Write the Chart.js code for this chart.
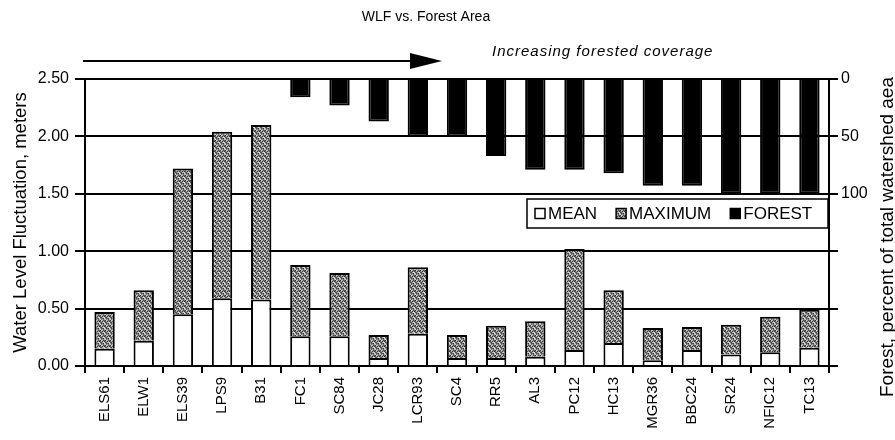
<!DOCTYPE html>
<html>
<head>
<meta charset="utf-8">
<title>WLF vs. Forest Area</title>
<script src="https://cdn.jsdelivr.net/npm/chart.js@4.4.1/dist/chart.umd.min.js"></script>
<style>
  html, body { margin: 0; padding: 0; background: #fff; }
</style>
</head>
<body>
<canvas id="chart" width="895" height="440"></canvas>
<script>
// sites, ordered by increasing forested coverage
const sites = ["ELS61", "ELW1", "ELS39", "LPS9", "B31", "FC1", "SC84", "JC28", "LCR93", "SC4",
               "RR5", "AL3", "PC12", "HC13", "MGR36", "BBC24", "SR24", "NFIC12", "TC13"];
// water level fluctuation, meters
const meanWLF = [0.15, 0.22, 0.45, 0.59, 0.58, 0.26, 0.26, 0.07, 0.28, 0.07,
                 0.07, 0.08, 0.14, 0.20, 0.05, 0.14, 0.10, 0.12, 0.16];
const maxWLF  = [0.47, 0.66, 1.72, 2.04, 2.10, 0.88, 0.81, 0.27, 0.86, 0.27,
                 0.35, 0.39, 1.02, 0.66, 0.33, 0.34, 0.36, 0.43, 0.49];
// forest, percent of total watershed area
const forestPct = [null, null, null, null, null, 16, 23, 37, 50, 50,
                   67, 79, 79, 82, 93, 93, 100, 100, 100];
const forestLabels = [0, 50, 100];

const FONT = "'Liberation Sans', Arial, Helvetica, sans-serif";
Chart.defaults.font.family = FONT;
Chart.defaults.font.size = 16;
Chart.defaults.color = '#000';

// stippled grey fill for the maximum bars
function stipple() {
  const c = document.createElement('canvas');
  c.width = 5; c.height = 5;
  const g = c.getContext('2d');
  const tones = [0x30, 0xa8, 0x6c, 0xd4, 0x50];
  for (let y = 0; y < 5; y++) {
    for (let x = 0; x < 5; x++) {
      const t = tones[(x * 3 + y * 2 + (x * y) % 3) % 5];
      g.fillStyle = `rgb(${t},${t},${t})`;
      g.fillRect(x, y, 1, 1);
    }
  }
  return g.createPattern(c, 'repeat');
}
const grey = stipple();

const annotations = {
  id: 'annotations',
  afterDraw(chart) {
    const ctx = chart.ctx;
    ctx.save();
    ctx.fillStyle = '#000';
    ctx.strokeStyle = '#000';
    ctx.textBaseline = 'middle';

    ctx.font = `14px ${FONT}`;
    ctx.textAlign = 'center';
    ctx.fillText('WLF vs. Forest Area', 426, 17);

    // arrow
    ctx.lineWidth = 2;
    ctx.beginPath();
    ctx.moveTo(83, 61);
    ctx.lineTo(415, 61);
    ctx.stroke();
    ctx.beginPath();
    ctx.moveTo(442, 61);
    ctx.lineTo(410, 53);
    ctx.lineTo(410, 69);
    ctx.closePath();
    ctx.fill();

    ctx.font = `italic 15px ${FONT}`;
    ctx.letterSpacing = '1px';
    ctx.textAlign = 'left';
    ctx.fillText('Increasing forested coverage', 492, 52);
    ctx.letterSpacing = '0px';

    // right axis title reads bottom to top
    ctx.save();
    ctx.translate(888, 237);
    ctx.rotate(-Math.PI / 2);
    ctx.font = `19px ${FONT}`;
    ctx.textAlign = 'center';
    ctx.fillText('Forest, percent of total watershed aea', 0, 0);
    ctx.restore();

    // legend box
    const bx = 527, by = 199, bw = 301, bh = 29;
    ctx.fillStyle = '#fff';
    ctx.fillRect(bx, by, bw, bh);
    ctx.lineWidth = 1.5;
    ctx.strokeRect(bx, by, bw, bh);
    ctx.font = `17px ${FONT}`;
    let x = bx + 8;
    const cy = by + bh / 2;
    chart.data.datasets.forEach(ds => {
      ctx.fillStyle = ds.backgroundColor;
      ctx.fillRect(x, cy - 5, 10, 10);
      ctx.strokeRect(x, cy - 5, 10, 10);
      ctx.fillStyle = '#000';
      ctx.fillText(ds.label, x + 13, cy + 1);
      x += 13 + ctx.measureText(ds.label).width + 19;
    });
    ctx.restore();
  }
};

new Chart(document.getElementById('chart'), {
  type: 'bar',
  data: {
    labels: sites,
    datasets: [
      {
        label: 'MEAN',
        data: meanWLF,
        backgroundColor: '#fff',
        yAxisID: 'y'
      },
      {
        label: 'MAXIMUM',
        data: maxWLF.map((m, i) => [meanWLF[i], m]),
        backgroundColor: grey,
        yAxisID: 'y'
      },
      {
        label: 'FOREST',
        data: forestPct,
        backgroundColor: '#000',
        yAxisID: 'y2'
      }
    ]
  },
  options: {
    responsive: false,
    animation: false,
    devicePixelRatio: 1,
    layout: { padding: { top: 79, left: 0, right: 0, bottom: 0 } },
    datasets: {
      bar: {
        grouped: false,
        barPercentage: 0.52,
        categoryPercentage: 1,
        borderColor: '#000',
        borderWidth: 2
      }
    },
    plugins: {
      legend: { display: false },
      title: { display: false },
      tooltip: { enabled: false }
    },
    scales: {
      x: {
        grid: { display: true, drawOnChartArea: false, color: '#000', lineWidth: 2, tickLength: 7 },
        border: { color: '#000', width: 2 },
        ticks: { autoSkip: false, minRotation: 90, maxRotation: 90, padding: 4, font: { size: 15 } },
        afterFit(s) { s.height = 74; }
      },
      y: {
        position: 'left',
        min: 0,
        max: 2.5,
        grid: { color: '#000', lineWidth: 2, tickLength: 10 },
        border: { color: '#000', width: 2 },
        ticks: { stepSize: 0.5, padding: 6, callback: v => v.toFixed(2) },
        title: {
          display: true,
          text: 'Water Level Fluctuation, meters',
          font: { size: 18.5 },
          padding: { top: 10 }
        },
        afterFit(s) { s.width = 85; }
      },
      y2: {
        position: 'right',
        reverse: true,
        min: 0,
        max: 250,
        grid: { drawOnChartArea: false, color: '#000', lineWidth: 2, tickLength: 9 },
        border: { color: '#000', width: 2 },
        afterBuildTicks(s) {
          s.ticks = [0, 50, 100, 150, 200, 250].map(v => ({ value: v }));
        },
        ticks: {
          padding: 3,
          callback: v => (forestLabels.includes(v) ? String(v) : '')
        },
        afterFit(s) { s.width = 66; }
      }
    }
  },
  plugins: [annotations]
});
</script>
</body>
</html>
